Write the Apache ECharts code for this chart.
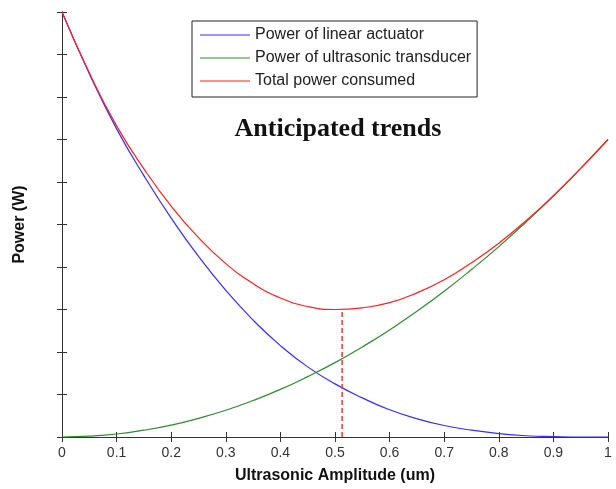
<!DOCTYPE html>
<html>
<head>
<meta charset="utf-8">
<script src="https://cdn.jsdelivr.net/npm/echarts@6/dist/echarts.min.js"></script>
<style>html,body{margin:0;padding:0;background:#fff}#c{width:616px;height:489px}</style>
</head>
<body>
<div id="c"></div>
<script>
const xValues = [0,0.05,0.1,0.15,0.2,0.25,0.3,0.35,0.4,0.45,0.5,0.55,0.6,0.65,0.7,0.75,0.8,0.85,0.9,0.95,1.0];
const linearActuator = [10,8.55,7.25,6.15,5.15,4.25,3.45,2.75,2.15,1.65,1.25,0.92,0.64,0.43,0.27,0.16,0.08,0.03,0.01,0,0];
const ultrasonicTransducer = [0,0.02,0.07,0.16,0.28,0.44,0.63,0.86,1.12,1.42,1.75,2.12,2.52,2.96,3.43,3.94,4.48,5.06,5.67,6.32,7.0];
const totalPower = [10,8.57,7.32,6.31,5.43,4.69,4.08,3.61,3.27,3.07,3.0,3.04,3.16,3.39,3.70,4.10,4.56,5.09,5.68,6.32,7.0];
const optimumX = 0.513;
const optimumY = 3.0;
const seriesNames = ['Power of linear actuator','Power of ultrasonic transducer','Total power consumed'];
const xTicks = ['0','0.1','0.2','0.3','0.4','0.5','0.6','0.7','0.8','0.9','1'];

const pairs = ys => xValues.map((x,i)=>[x, ys[i]]);
const chart = echarts.init(document.getElementById('c'), null, {renderer:'canvas'});
const axisCol = '#333';
const lineIcon = 'path://M0,0 H50 V1 H0 Z';
chart.setOption({
  backgroundColor:'#fff',
  animation:false,
  title:{text:'Anticipated trends', left:333, top:111, textAlign:'center',
    textStyle:{fontFamily:'Liberation Serif', fontWeight:'bold', fontSize:26, color:'#111'}},
  legend:{
    data:seriesNames.map(n=>({name:n, icon:lineIcon})), orient:'vertical', left:192, top:21,
    itemWidth:50, itemHeight:1.2, itemGap:5, padding:[5,6,7,8],
    borderColor:'#222', borderWidth:1, backgroundColor:'#fff',
    textStyle:{fontFamily:'Liberation Sans', fontSize:16, lineHeight:18, color:'#222'},
    selectedMode:false
  },
  grid:{left:62, right:8, top:12, bottom:51},
  xAxis:[{
    type:'value', min:0, max:1, interval:0.1,
    name:'Ultrasonic Amplitude (um)', nameLocation:'middle', nameGap:31,
    nameTextStyle:{fontFamily:'Liberation Sans', fontWeight:'bold', fontSize:16, color:'#111'},
    axisLine:{show:true, lineStyle:{color:axisCol, width:1}},
    axisTick:{show:true, inside:true, length:5, lineStyle:{color:axisCol}},
    axisLabel:{fontFamily:'Liberation Sans', fontSize:14, color:'#333', margin:9,
      formatter:v=>xTicks[Math.round(v*10)]},
    splitLine:{show:false}
  },{
    type:'value', min:0, max:1, interval:0.1, position:'top',
    axisLine:{show:true, lineStyle:{color:axisCol, width:1}},
    axisTick:{show:true, inside:true, length:5, lineStyle:{color:axisCol}},
    axisLabel:{show:false}, splitLine:{show:false}
  }],
  yAxis:[{
    type:'value', min:0, max:10, interval:1,
    name:'Power (W)', nameLocation:'middle', nameGap:34,
    nameTextStyle:{fontFamily:'Liberation Sans', fontWeight:'bold', fontSize:16, color:'#111'},
    axisLine:{show:true, lineStyle:{color:axisCol, width:1}},
    axisTick:{show:true, inside:true, length:5, lineStyle:{color:axisCol}},
    axisLabel:{show:false}, splitLine:{show:false}
  },{
    type:'value', min:0, max:10, interval:1, position:'right',
    axisLine:{show:true, lineStyle:{color:axisCol, width:1}},
    axisTick:{show:true, inside:true, length:5, lineStyle:{color:axisCol}},
    axisLabel:{show:false}, splitLine:{show:false}
  }],
  series:[
    {name:seriesNames[0], type:'line', data:pairs(linearActuator), smooth:true,
      symbol:'none', lineStyle:{color:'#3030ff', width:1.2}, itemStyle:{color:'#3030ff'}},
    {name:seriesNames[1], type:'line', data:pairs(ultrasonicTransducer), smooth:true,
      symbol:'none', lineStyle:{color:'#2e8b2e', width:1.2}, itemStyle:{color:'#2e8b2e'}},
    {name:seriesNames[2], type:'line', data:pairs(totalPower), smooth:true,
      symbol:'none', lineStyle:{color:'#ff2020', width:1.2}, itemStyle:{color:'#ff2020'}},
    {name:'optimum', type:'line', data:[[optimumX,0],[optimumX,optimumY]], symbol:'none',
      lineStyle:{color:'#ff3030', width:1.5, type:[5,3]}}
  ]
});
</script>
</body>
</html>
